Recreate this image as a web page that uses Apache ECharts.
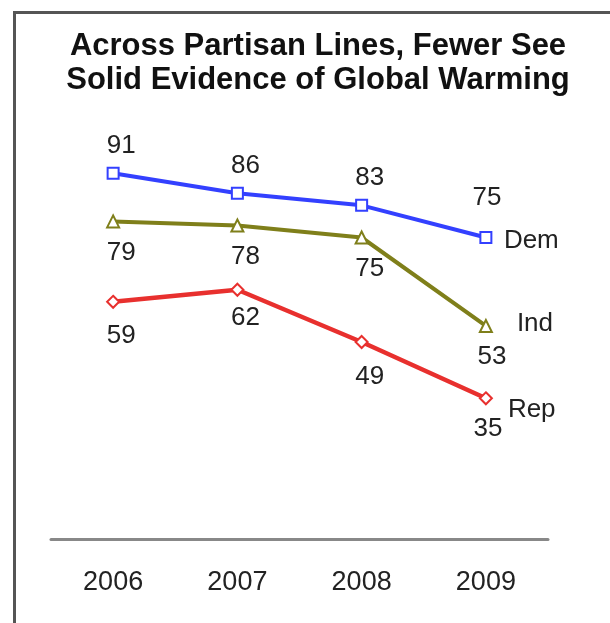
<!DOCTYPE html>
<html>
<head>
<meta charset="utf-8">
<script src="https://cdn.jsdelivr.net/npm/echarts@6/dist/echarts.min.js"></script>
<style>
  html, body { margin: 0; padding: 0; background: #fff; }
  #chart { position: absolute; left: 0; top: 0; width: 610px; height: 623px; }
  #frame { position: absolute; left: 13px; top: 11px; width: 620px; height: 640px;
           border-left: 3px solid #555; border-top: 3px solid #555; pointer-events: none; }
</style>
</head>
<body>
<div id="chart"></div>
<div id="frame"></div>
<script>
const years = ['2006', '2007', '2008', '2009'];
const demValues = [91, 86, 83, 75];
const indValues = [79, 78, 75, 53];
const repValues = [59, 62, 49, 35];
const seriesNames = ['Dem', 'Ind', 'Rep'];

const FONT = 'Liberation Sans, Arial, Helvetica, sans-serif';
const labelStyle = { fontFamily: FONT, fontSize: 26, color: '#222' };

function items(values, labelOpts) {
  return values.map((v, i) => ({ value: v, label: labelOpts[i] }));
}

const chart = echarts.init(document.getElementById('chart'), null, { renderer: 'canvas' });
chart.setOption({
  animation: false,
  backgroundColor: '#fff',
  title: {
    text: 'Across Partisan Lines, Fewer See\nSolid Evidence of Global Warming',
    left: 313, top: 24, textAlign: 'center',
    textStyle: { fontFamily: FONT, fontSize: 31, fontWeight: 'bold', color: '#111', lineHeight: 34 }
  },
  grid: { left: 51, right: 62, top: 137, bottom: 84 },
  xAxis: {
    type: 'category', data: years, boundaryGap: true,
    axisLine: { lineStyle: { color: '#888', width: 3 } },
    axisTick: { show: false },
    axisLabel: { fontFamily: FONT, fontSize: 27, color: '#222', margin: 30 }
  },
  yAxis: { type: 'value', min: 0, max: 100, show: false, splitLine: { show: false } },
  series: [
    {
      name: seriesNames[0], type: 'line',
      data: items(demValues, [{}, {}, {}, { offset: [1, -12] }]),
      symbol: 'rect', symbolSize: 11,
      lineStyle: { color: '#3340ff', width: 4 },
      itemStyle: { color: '#fff', borderColor: '#3340ff', borderWidth: 2 },
      label: Object.assign({ show: true, position: 'top', distance: 8, offset: [8, 0] }, labelStyle),
      endLabel: Object.assign({ show: true, formatter: '{a}', offset: [10, 3] }, labelStyle),
      z: 3
    },
    {
      name: seriesNames[1], type: 'line',
      data: items(indValues, [{}, {}, {}, { offset: [6, 0] }]),
      symbol: 'triangle', symbolSize: 12,
      lineStyle: { color: '#7f7f1a', width: 4 },
      itemStyle: { color: '#fff', borderColor: '#7f7f1a', borderWidth: 2 },
      label: Object.assign({ show: true, position: 'bottom', distance: 11, offset: [8, 0] }, labelStyle),
      endLabel: Object.assign({ show: true, formatter: '{a}', offset: [23, -2] }, labelStyle),
      z: 2
    },
    {
      name: seriesNames[2], type: 'line',
      data: items(repValues, [
        { distance: 14 }, { distance: 8 }, { distance: 15 }, { distance: 11, offset: [2, 0] }
      ]),
      symbol: 'diamond', symbolSize: 12,
      lineStyle: { color: '#e8302e', width: 4.5 },
      itemStyle: { color: '#fff', borderColor: '#e8302e', borderWidth: 2 },
      label: Object.assign({ show: true, position: 'bottom', distance: 15, offset: [8, 0] }, labelStyle),
      endLabel: Object.assign({ show: true, formatter: '{a}', offset: [14, 12] }, labelStyle),
      z: 1
    }
  ]
});
</script>
</body>
</html>
